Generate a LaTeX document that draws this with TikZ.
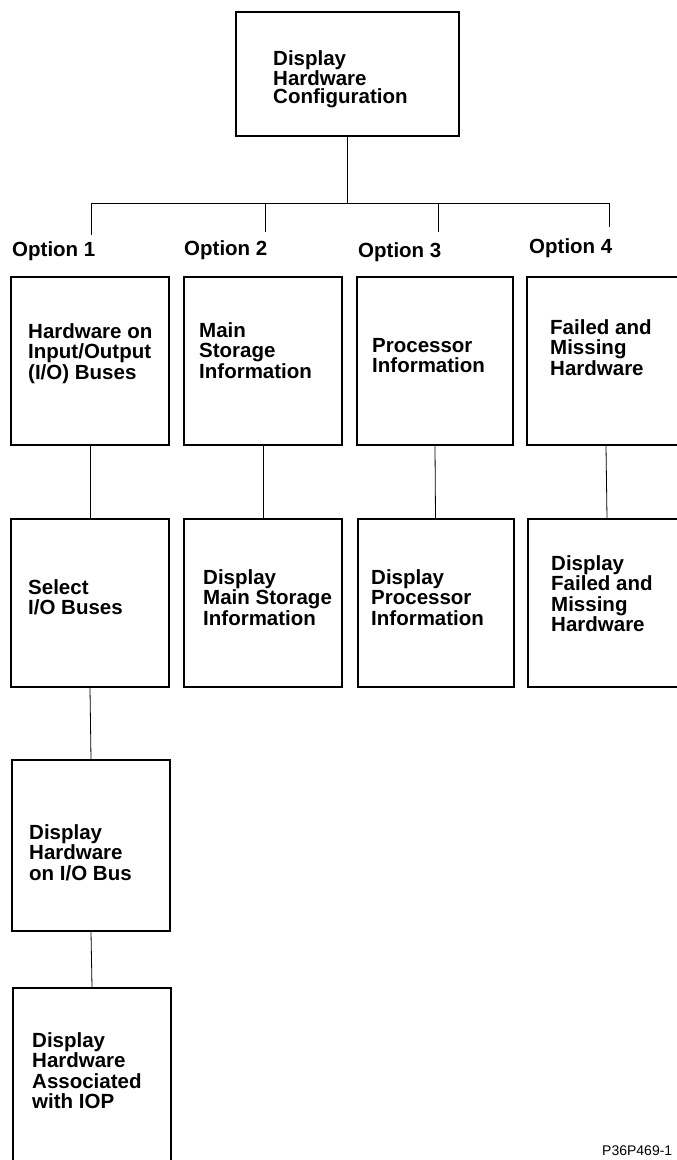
\documentclass[tikz,border=0pt]{standalone}
\usepackage{fontspec}
\setmainfont{Liberation Sans}
\begin{document}
\begin{tikzpicture}[x=1pt,y=-1pt,
  box/.style={draw, line width=2pt, rectangle, inner sep=0pt},
  link/.style={line width=0.8pt},
  txt/.style={anchor=north west, inner sep=0pt, align=left,
    font=\fontsize{20.5}{20.5}\selectfont\bfseries},
  opt/.style={anchor=base west, inner sep=0pt,
    font=\fontsize{20.5}{20.5}\selectfont\bfseries}]
\clip (0,0) rectangle (677,1160);
\useasboundingbox (0,0) rectangle (677,1160);

% root
\node[box, minimum width=223pt, minimum height=124pt] (top) at (347.5,74) {};
\node[txt, font=\fontsize{20.5}{18.5}\selectfont\bfseries] (t0) at (273,50)
  {Display\\Hardware\\Configuration};

% option labels and the branch lines above them
\node[opt] (op1) at (12,256) {Option 1};
\node[opt] (op2) at (184,255) {Option 2};
\node[opt] (op3) at (358,257) {Option 3};
\node[opt] (op4) at (529,253) {Option 4};

\coordinate (j) at (347.5,203);
\coordinate (d1) at (91,235);
\coordinate (d2) at (265,232);
\coordinate (d3) at (438,232);
\coordinate (d4) at (609,227);
\draw[link] (top.south) -- (j);
\draw[link] (d1) -- (d1 |- j) -- (d4 |- j) -- (d4);
\draw[link] (d2) -- (d2 |- j);
\draw[link] (d3) -- (d3 |- j);

% first row
\node[box, minimum width=158pt, minimum height=168pt] (o1) at (90,361) {};
\node[box, minimum width=158pt, minimum height=168pt] (o2) at (263,361) {};
\node[box, minimum width=156pt, minimum height=168pt] (o3) at (435,361) {};
\node[box, minimum width=158pt, minimum height=168pt] (o4) at (606,361) {};
\node[txt] (t11) at (28,323) {Hardware on\\Input/Output\\(I/O) Buses};
\node[txt] (t12) at (199,322) {Main\\Storage\\Information};
\node[txt] (t13) at (372,338) {Processor\\Information};
\node[txt] (t14) at (550,319) {Failed and\\Missing\\Hardware};

% second row
\node[box, minimum width=158pt, minimum height=168pt] (s1) at (90,603) {};
\node[box, minimum width=158pt, minimum height=168pt] (s2) at (263,603) {};
\node[box, minimum width=156pt, minimum height=168pt] (s3) at (435.5,603) {};
\node[box, minimum width=158pt, minimum height=168pt] (s4) at (607,603) {};
\node[txt] (t21) at (28,579) {Select\\I/O Buses};
\node[txt] (t22) at (203,569) {Display\\Main Storage\\Information};
\node[txt] (t23) at (371,569) {Display\\Processor\\Information};
\node[txt] (t24) at (551,555) {Display\\Failed and\\Missing\\Hardware};

% option 1 chain
\node[box, minimum width=158pt, minimum height=171pt] (h1) at (91,845.5) {};
\node[txt] (t31) at (29,824) {Display\\Hardware\\on I/O Bus};
\node[box, minimum width=158pt, minimum height=180pt] (a1) at (92,1078) {};
\node[txt] (t41) at (32,1032) {Display\\Hardware\\Associated\\with IOP};

\draw[link] (o1.south) -- (s1.north);
\draw[link] (o2.south) -- (s2.north);
\draw[link] (o3.south) -- (s3.north);
\draw[link] (o4.south) -- (s4.north);
\draw[link] (s1.south) -- (h1.north);
\draw[link] (h1.south) -- (a1.north);

% figure number
\node[anchor=north west, inner sep=0pt, font=\fontsize{14}{14}\selectfont] (fig) at (602,1146) {P36P469-1};
\end{tikzpicture}
\end{document}
